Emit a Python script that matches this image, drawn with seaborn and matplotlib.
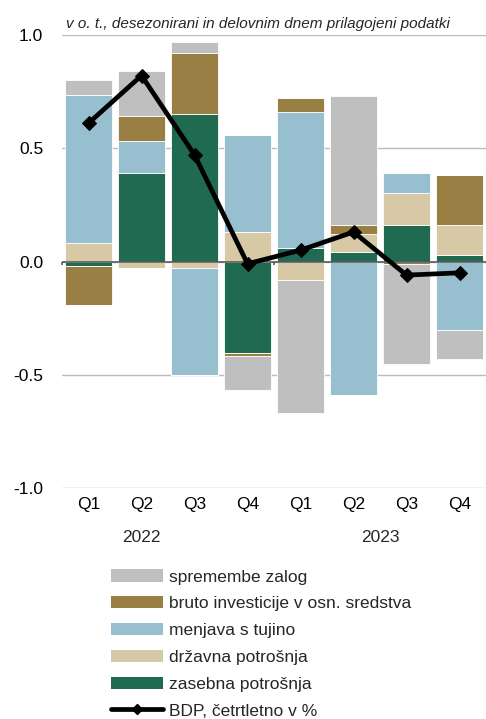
import numpy as np
import matplotlib
matplotlib.use("Agg")
import matplotlib.pyplot as plt
import seaborn as sns
from matplotlib.patches import Patch
from matplotlib.lines import Line2D

# data
quarters = ["Q1", "Q2", "Q3", "Q4", "Q1", "Q2", "Q3", "Q4"]
years = ["2022", "2023"]
zasebna = [-0.02, 0.39, 0.65, -0.405, 0.06, 0.04, 0.16, 0.03]
drzavna = [0.08, -0.03, -0.03, 0.13, -0.08, 0.08, 0.14, 0.13]
menjava = [0.655, 0.14, -0.47, 0.43, 0.60, -0.59, 0.09, -0.30]
investicije = [-0.17, 0.11, 0.27, -0.012, 0.06, 0.04, -0.01, 0.22]
zaloge = [0.065, 0.20, 0.05, -0.15, -0.59, 0.57, -0.44, -0.13]
bdp = [0.61, 0.82, 0.47, -0.01, 0.05, 0.13, -0.06, -0.05]

names = ["zasebna potrošnja", "državna potrošnja", "menjava s tujino",
         "bruto investicije v osn. sredstva", "spremembe zalog"]
colors = ["#1F6A50", "#D8C9A6", "#98BFCF", "#9A7F45", "#BFBFBF"]
series = [zasebna, drzavna, menjava, investicije, zaloge]

#plotting
sns.set_theme(style="white")
plt.rcParams["font.family"] = ["Liberation Sans", "DejaVu Sans"]

f, ax = plt.subplots(figsize=(4.86, 7.19), dpi=100)
f.subplots_adjust(left=0.1276, right=1.0, top=0.9517, bottom=0.3209)

pos = list(range(len(quarters)))
pos_base = np.zeros(len(quarters))
neg_base = np.zeros(len(quarters))
for vals, c in zip(series, colors):
    vals = np.array(vals)
    up = np.where(vals > 0, vals, 0)
    down = np.where(vals < 0, vals, 0)
    sns.barplot(x=pos, y=up, bottom=pos_base, color=c, saturation=1, width=0.88,
                edgecolor="white", linewidth=0.6, errorbar=None, ax=ax, zorder=2)
    sns.barplot(x=pos, y=down, bottom=neg_base, color=c, saturation=1, width=0.88,
                edgecolor="white", linewidth=0.6, errorbar=None, ax=ax, zorder=2)
    pos_base += up
    neg_base += down

sns.lineplot(x=pos, y=bdp, color="black", linewidth=3.4, marker="D", markersize=7,
             markeredgecolor="black", ax=ax, zorder=4)

ax.set_ylim(-1.0, 1.0)
ax.set_xlim(-0.5, 7.5)
ax.set_yticks([-1.0, -0.5, 0.0, 0.5, 1.0])
ax.set_yticklabels(["-1.0", "-0.5", "0.0", "0.5", "1.0"])
ax.set_xticks(pos)
ax.set_xticklabels(quarters)
ax.tick_params(axis="y", length=0, pad=13.5, labelsize=12.5, colors="black")
ax.tick_params(axis="x", length=0, pad=6, labelsize=12.5, colors="black")
ax.set_xlabel("")
ax.set_ylabel("")
for s in ax.spines.values():
    s.set_visible(False)
ax.grid(axis="y", color="#BBBBBB", linewidth=1.0, zorder=0)
ax.set_axisbelow(True)
ax.axhline(0, color="#5A5A5A", linewidth=1.2, zorder=3)
ax.vlines([-0.5, 3.5], -0.015, 0, color="#5A5A5A", linewidth=1.2, clip_on=False, zorder=3)

# year labels under quarters
tr = ax.get_xaxis_transform()
ax.text(1, -0.108, years[0], transform=tr, ha="center", va="center", fontsize=12.5)
ax.text(5.5, -0.108, years[1], transform=tr, ha="center", va="center", fontsize=12.5)

ax.text(0.01, 1.014, "v o. t., desezonirani in delovnim dnem prilagojeni podatki",
        transform=ax.transAxes, ha="left", va="baseline", fontsize=11, style="italic")

handles = [Patch(facecolor=colors[i], edgecolor="none") for i in [4, 3, 2, 1, 0]]
labels = [names[i] for i in [4, 3, 2, 1, 0]]
handles.append(Line2D([], [], color="black", linewidth=3.4, marker="D", markersize=5))
labels.append("BDP, četrtletno v %")
f.legend(handles, labels, loc="upper left", bbox_to_anchor=(0.228, 0.208), frameon=False,
         fontsize=12.5, handlelength=3.0, handleheight=0.7, handletextpad=0.35,
         labelspacing=0.67, borderpad=0, borderaxespad=0)

f.savefig("out.png", dpi=100)
